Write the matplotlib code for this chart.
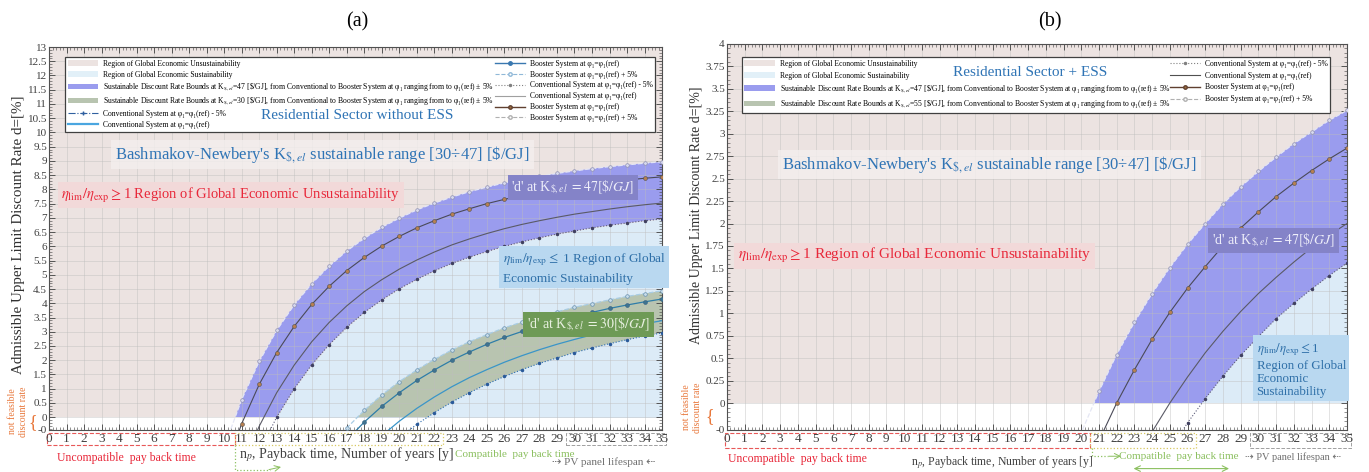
import numpy as np
import matplotlib
matplotlib.use('Agg')
import matplotlib.pyplot as plt
from matplotlib.patches import Rectangle, Patch
from matplotlib.lines import Line2D
from matplotlib.ticker import MultipleLocator
from matplotlib.transforms import blended_transform_factory

plt.rcParams['font.family'] = ['Liberation Serif', 'DejaVu Serif']
plt.rcParams['mathtext.fontset'] = 'stix'

# ---- (a) residential sector without ESS: admissible discount rate d [%] vs payback years ----
# K$,el = 47 $/GJ
yrs_a_b47_up = list(range(9, 36))      # booster, phi1 = ref + 5%
d_a_b47_up = [-3.15, -1.05, 0.62, 1.96, 3.05, 3.95, 4.69, 5.31, 5.84, 6.28, 6.67, 6.99, 7.28, 7.52,
              7.73, 7.92, 8.08, 8.23, 8.35, 8.46, 8.56, 8.65, 8.73, 8.80, 8.86, 8.92, 8.97]
yrs_a_b47 = list(range(10, 36))        # booster, phi1 = ref
d_a_b47 = [-1.93, -0.23, 1.15, 2.27, 3.19, 3.96, 4.60, 5.15, 5.61, 6.01, 6.35, 6.65, 6.90, 7.13,
           7.32, 7.50, 7.65, 7.78, 7.90, 8.01, 8.10, 8.19, 8.26, 8.33, 8.39, 8.44]
yrs_a_c47 = list(range(11, 36))        # conventional, phi1 = ref
d_a_c47 = [-1.75, -0.32, 0.86, 1.83, 2.65, 3.33, 3.91, 4.41, 4.83, 5.20, 5.52, 5.80, 6.05, 6.26,
           6.45, 6.62, 6.77, 6.90, 7.02, 7.13, 7.22, 7.31, 7.39, 7.46, 7.52]
yrs_a_c47_lo = list(range(12, 36))     # conventional, phi1 = ref - 5%
d_a_c47_lo = [-1.21, 0.00, 1.00, 1.84, 2.55, 3.16, 3.68, 4.12, 4.51, 4.84, 5.14, 5.40, 5.62, 5.82,
              6.00, 6.16, 6.30, 6.43, 6.54, 6.65, 6.74, 6.82, 6.90, 6.96]
# K$,el = 30 $/GJ
yrs_a_b30_up = list(range(16, 36))
d_a_b30_up = [-1.10, -0.38, 0.24, 0.78, 1.25, 1.66, 2.03, 2.36, 2.65, 2.90, 3.14, 3.34, 3.53, 3.70,
              3.86, 3.99, 4.12, 4.24, 4.34, 4.44]
yrs_a_b30 = list(range(17, 36))
d_a_b30 = [-0.81, -0.17, 0.38, 0.86, 1.29, 1.66, 2.00, 2.29, 2.56, 2.80, 3.01, 3.21, 3.38, 3.54,
           3.68, 3.82, 3.94, 4.05, 4.15]
yrs_a_c30 = list(range(19, 36))
d_a_c30 = [-0.65, -0.14, 0.31, 0.71, 1.07, 1.39, 1.67, 1.93, 2.16, 2.37, 2.56, 2.73, 2.89, 3.03,
           3.16, 3.28, 3.39]
yrs_a_c30_lo = list(range(20, 36))
d_a_c30_lo = [-0.72, -0.25, 0.16, 0.53, 0.86, 1.16, 1.43, 1.67, 1.89, 2.08, 2.27, 2.43, 2.58, 2.72,
              2.85, 2.96]

# ---- (b) residential sector + ESS, K$,el = 47 $/GJ ----
yrs_b_up = list(range(19, 36))
d_b_up = [-0.84, -0.33, 0.13, 0.54, 0.90, 1.22, 1.51, 1.77, 2.00, 2.22, 2.41, 2.58, 2.74, 2.89,
          3.02, 3.15, 3.26]
yrs_b_boost = list(range(21, 36))
d_b_boost = [-0.42, 0.00, 0.37, 0.71, 1.01, 1.28, 1.52, 1.75, 1.95, 2.13, 2.30, 2.45, 2.59, 2.72, 2.84]
yrs_b_conv = list(range(24, 36))
d_b_conv = [-0.32, 0.00, 0.29, 0.56, 0.80, 1.02, 1.22, 1.40, 1.57, 1.73, 1.87, 2.00]
yrs_b_lo = list(range(25, 36))
d_b_lo = [-0.53, -0.22, 0.05, 0.30, 0.53, 0.74, 0.94, 1.11, 1.27, 1.42, 1.56]

PINK = '#ECE3E1'
LIGHT_BLUE = '#DCEBF7'
BAND_47 = '#9A9CEE'
BAND_30 = '#B8C4B0'
TXT_BLUE = '#2F74B5'
TXT_RED = '#E8283A'
ORANGE = '#E8783C'

fig = plt.figure(figsize=(13.69, 4.72), dpi=100)
ax_a = fig.add_axes([0.0358, 0.089, 0.4478, 0.8114])
ax_b = fig.add_axes([0.5310, 0.089, 0.4529, 0.8178])


def setup_axes(ax, ymin, ymax, ystep, yminor):
    ax.set_xlim(0, 35)
    ax.set_ylim(ymin, ymax)
    ax.set_xticks(range(36))
    ax.xaxis.set_minor_locator(MultipleLocator(0.2))
    yt = list(np.arange(0, ymax + 1e-9, ystep)) + [ymin]
    ax.set_yticks(yt)
    ax.set_yticklabels([f"{v:g}" for v in yt[:-1]] + ['-0'])
    ax.yaxis.set_minor_locator(MultipleLocator(yminor))
    ax.tick_params(which='both', direction='in', top=True, right=True, colors='#404040')
    ax.tick_params(axis='x', labelsize=9.5, pad=2)
    ax.tick_params(axis='y', labelsize=8, pad=1.5)
    ax.tick_params(which='major', length=4, width=0.6)
    ax.tick_params(which='minor', length=2, width=0.4)
    ax.set_axisbelow('line')
    ax.grid(True, which='major', color='#BDBDBD', lw=0.5, alpha=0.6)
    for s in ax.spines.values():
        s.set_color('#505050')
        s.set_linewidth(0.8)
    ax.axhspan(0, ymax, color=PINK, lw=0, zorder=0.5)


def draw_band(ax, x_up, d_up, x_lo, d_lo, color, ymax, under=True):
    clip = Rectangle((0, 0), 35, ymax, transform=ax.transData)
    if under:
        pc = ax.fill_between(x_lo, d_lo, -5, color=LIGHT_BLUE, lw=0, zorder=0.6)
        pc.set_clip_path(clip)
    poly = ax.fill(np.r_[x_up, x_lo[::-1]], np.r_[d_up, d_lo[::-1]], color=color, lw=0, zorder=0.7)[0]
    poly.set_clip_path(clip)


def bottom_marks(ax, red_end, yel_end, y_lo):
    tr = blended_transform_factory(ax.transData, ax.transAxes)
    ax.add_patch(Rectangle((-0.1, y_lo), red_end + 0.1, -0.007 - y_lo, transform=tr, fill=False,
                           ls='--', ec='#E85858', lw=0.8, clip_on=False))
    ax.add_patch(Rectangle((red_end, y_lo), yel_end - red_end, -0.007 - y_lo, transform=tr, fill=False,
                           ls=':', ec='#D8C860', lw=0.9, clip_on=False))
    ax.add_patch(Rectangle((29.5, y_lo), 5.7, -0.007 - y_lo, transform=tr, fill=False,
                           ls='--', ec='#A0A0A0', lw=0.7, clip_on=False))


def not_feasible(ax, brace_x, text_x, brace_y, text_y):
    tr = blended_transform_factory(ax.transAxes, ax.transData)
    ax.text(brace_x, brace_y, '{', transform=tr, fontsize=13, color=ORANGE, ha='center', va='center',
            clip_on=False)
    ax.text(text_x, text_y, 'not feasible\ndiscount rate', transform=tr, fontsize=7, color=ORANGE,
            rotation=90, ha='center', va='center', linespacing=1.25, clip_on=False)


def text_box(ax, x, y, s, fc, tc, size=10, ha='center', **kw):
    ax.text(x, y, s, fontsize=size, color=tc, ha=ha, va='center', zorder=4,
            bbox=dict(boxstyle='square,pad=0.25', fc=fc, ec='none', alpha=kw.pop('alpha', 1)), **kw)


lbl_unsust = 'Region of Global Economic Unsustainability'
lbl_sust = 'Region of Global Economic Sustainability'
lbl_band = (r'Sustainable Discount Rate Bounds at K$_{\$,el}$=%d [\$/GJ], from Conventional to Booster System at '
            'φ₁ ranging from to φ₁(ref) ± 5%%')
lbl_conv_lo = 'Conventional System at φ₁=φ₁(ref) - 5%'
lbl_conv = 'Conventional System at φ₁=φ₁(ref)'
lbl_boost = 'Booster System at φ₁=φ₁(ref)'
lbl_boost_up = 'Booster System at φ₁=φ₁(ref) + 5%'

leg_kw = dict(ncol=2, loc='upper left', mode='expand', fontsize=5.5, handlelength=4.0, borderaxespad=0,
              handletextpad=0.6, borderpad=0.35, fancybox=False, edgecolor='#404040', framealpha=1)

# ===================== panel (a) =====================
ax = ax_a
setup_axes(ax, -0.45, 13, 0.5, 0.1)
draw_band(ax, yrs_a_b47_up, d_a_b47_up, yrs_a_c47_lo, d_a_c47_lo, BAND_47, 13)
draw_band(ax, yrs_a_b30_up, d_a_b30_up, yrs_a_c30_lo, d_a_c30_lo, BAND_30, 13, under=False)

ax.plot(yrs_a_b47_up, d_a_b47_up, ls='--', color='#E4E6F4', lw=0.9, marker='o', ms=2.6,
        mfc='#D8DAF0', mec='#9090B0', mew=0.5, zorder=3)
ax.plot(yrs_a_b47, d_a_b47, ls='-', color='#4A4A58', lw=0.8, marker='o', ms=2.8,
        mfc='#B88050', mec='#505050', mew=0.4, zorder=3)
ax.plot(yrs_a_c47, d_a_c47, ls='-', color='#5A5A66', lw=0.8, zorder=3)
ax.plot(yrs_a_c47_lo, d_a_c47_lo, ls=':', color='#5A5A78', lw=0.8, marker='.', ms=3,
        mfc='#404060', mec='#404060', zorder=3)
ax.plot(yrs_a_b30_up, d_a_b30_up, ls='--', color='#A8CCE4', lw=0.9, marker='o', ms=2.6,
        mfc='#C8DDEA', mec='#6890B0', mew=0.5, zorder=3)
ax.plot(yrs_a_b30, d_a_b30, ls='-', color='#2E7DA8', lw=0.9, marker='o', ms=2.8,
        mfc='#3F7390', mec='#2F5F80', mew=0.4, zorder=3)
ax.plot(yrs_a_c30, d_a_c30, ls='-', color='#3A95C8', lw=0.9, zorder=3)
ax.plot(yrs_a_c30_lo, d_a_c30_lo, ls=':', color='#2A6AB0', lw=0.8, marker='.', ms=3,
        mfc='#2A5A9A', mec='#2A5A9A', zorder=3)

handles_a = [
    Patch(fc=PINK, ec='none'), Patch(fc='#E2F0F8', ec='none'),
    Patch(fc=BAND_47, ec='none'), Patch(fc=BAND_30, ec='none'),
    Line2D([], [], ls='-.', color='#3060A0', lw=0.8, marker='+', ms=3),
    Line2D([], [], ls='-', color='#4AA6E0', lw=1.6),
    Line2D([], [], ls='-', color='#3A78B0', lw=1.0, marker='o', ms=2.5),
    Line2D([], [], ls='--', color='#90B8D8', lw=0.8, marker='o', ms=2.5, mfc='white'),
    Line2D([], [], ls=':', color='#808080', lw=0.8, marker='.', ms=3),
    Line2D([], [], ls='-', color='#A0A0A0', lw=0.8),
    Line2D([], [], ls='-', color='#604030', lw=1.0, marker='o', ms=2.5, mfc='#A07040'),
    Line2D([], [], ls='--', color='#B0B0B0', lw=0.8, marker='o', ms=2.5, mfc='white'),
]
labels_a = [lbl_unsust, lbl_sust, lbl_band % 47, lbl_band % 30, lbl_conv_lo, lbl_conv,
            lbl_boost, lbl_boost_up, lbl_conv_lo, lbl_conv, lbl_boost, lbl_boost_up]
leg = ax.legend(handles_a, labels_a, bbox_to_anchor=(0.026, 0.77, 0.963, 0.204), labelspacing=0.38, **leg_kw)
leg.get_frame().set_linewidth(0.9)
leg.set_zorder(5)

ax.text(17.6, 10.6, 'Residential Sector without ESS', fontsize=11, color=TXT_BLUE, ha='center',
        va='center', zorder=6)
text_box(ax, 15.6, 9.22, r"Bashmakov-Newbery's K$_{\$,el}$ sustainable range [30÷47] [\$/GJ]",
         '#F4EFEE', TXT_BLUE, size=12, alpha=0.8)
text_box(ax, 0.7, 7.8, r"$\eta_{\rm lim}/\eta_{\rm exp}\geq$1 Region of Global Economic Unsustainability",
         '#F2D9D9', TXT_RED, size=10.5, ha='left')
text_box(ax, 29.9, 8.06, r"'d' at K$_{\$,el}$ $= 47[\$/GJ]$", '#8483C8', '#EEEEFA', size=10)
text_box(ax, 25.9, 5.23, r"$\eta_{\rm lim}/\eta_{\rm exp}\leq$ 1 Region of Global" + "\nEconomic Sustainability",
         '#B9D8F0', '#2E6FA8', size=9.5, ha='left', linespacing=1.5)
text_box(ax, 30.8, 3.25, r"'d' at K$_{\$,el}$ $=30[\$/GJ]$", '#6E9A56', '#E8F0E0', size=10)

bottom_marks(ax, 10.6, 22.5, -0.040)
not_feasible(ax, -0.027, -0.05, -0.2, 0.2)
ax.text(0.127, -0.072, 'Uncompatible  pay back time', transform=ax.transAxes, fontsize=8.5,
        color=TXT_RED, ha='center', va='center')
ax.text(0.486, -0.065, r'n$_p$, Payback time, Number of years [y]', transform=ax.transAxes, fontsize=10,
        color='#404040', ha='center', va='center')
ax.text(0.662, -0.065, 'Compatible  pay back time', transform=ax.transAxes, fontsize=8,
        color='#8CC060', ha='left', va='center')
ax.text(0.99, -0.083, '⇢ PV panel lifespan ⇠', transform=ax.transAxes, fontsize=8, color='#707070',
        ha='right', va='center', family=['Liberation Serif', 'DejaVu Sans'])
trx = blended_transform_factory(ax.transData, ax.transAxes)
ax.plot([10.6, 10.6, 12.6], [-0.04, -0.105, -0.105], transform=trx, ls=':', color='#8CC060', lw=0.9,
        clip_on=False)
ax.annotate('', xy=(13.4, -0.095), xytext=(12.4, -0.105), xycoords=trx, textcoords=trx,
            arrowprops=dict(arrowstyle='->', color='#8CC060', lw=0.7), annotation_clip=False)

# ===================== panel (b) =====================
ax = ax_b
setup_axes(ax, -0.3, 4, 0.25, 0.05)
draw_band(ax, yrs_b_up, d_b_up, yrs_b_lo, d_b_lo, BAND_47, 4)

ax.plot(yrs_b_up, d_b_up, ls='--', color='#E4E6F4', lw=0.9, marker='o', ms=2.6,
        mfc='#D8DAF0', mec='#9090B0', mew=0.5, zorder=3)
ax.plot(yrs_b_boost, d_b_boost, ls='-', color='#4A4A58', lw=0.8, marker='o', ms=2.8,
        mfc='#B88050', mec='#505050', mew=0.4, zorder=3)
ax.plot(yrs_b_conv, d_b_conv, ls='-', color='#5A5A66', lw=0.8, zorder=3)
ax.plot(yrs_b_lo, d_b_lo, ls=':', color='#5A5A78', lw=0.8, marker='.', ms=3,
        mfc='#404060', mec='#404060', zorder=3)

handles_b = [
    Patch(fc=PINK, ec='none'), Patch(fc='#E2F0F8', ec='none'),
    Patch(fc=BAND_47, ec='none'), Patch(fc=BAND_30, ec='none'),
    Line2D([], [], ls=':', color='#808080', lw=0.8, marker='.', ms=3),
    Line2D([], [], ls='-', color='#505050', lw=0.8),
    Line2D([], [], ls='-', color='#604030', lw=1.0, marker='o', ms=2.5, mfc='#A07040'),
    Line2D([], [], ls='--', color='#B0B0B0', lw=0.8, marker='o', ms=2.5, mfc='white'),
]
labels_b = [lbl_unsust, lbl_sust, lbl_band % 47, lbl_band % 55, lbl_conv_lo, lbl_conv, lbl_boost, lbl_boost_up]
leg = ax.legend(handles_b, labels_b, bbox_to_anchor=(0.024, 0.821, 0.949, 0.145), labelspacing=0.5, **leg_kw)
leg.get_frame().set_linewidth(0.9)
leg.set_zorder(5)

ax.text(17.1, 3.68, 'Residential Sector + ESS', fontsize=11, color=TXT_BLUE, ha='center',
        va='center', zorder=6)
text_box(ax, 14.8, 2.66, r"Bashmakov-Newbery's K$_{\$,el}$ sustainable range [30÷47] [\$/GJ]",
         '#F4EFEE', TXT_BLUE, size=12, alpha=0.8)
text_box(ax, 0.6, 1.64, r"$\eta_{\rm lim}/\eta_{\rm exp}\geq$1 Region of Global Economic Unsustainability",
         '#F2D9D9', TXT_RED, size=11, ha='left')
text_box(ax, 30.85, 1.81, r"'d' at K$_{\$,el}$ $= 47[\$/GJ]$", '#8483C8', '#EEEEFA', size=10)
text_box(ax, 29.9, 0.37, r"$\eta_{\rm lim}/\eta_{\rm exp}\leq$1" + "\nRegion of Global\nEconomic\nSustainability",
         '#B9D8F0', '#2E6FA8', size=9.3, ha='left', linespacing=1.15)

bottom_marks(ax, 20.5, 26.5, -0.047)
not_feasible(ax, -0.027, -0.056, -0.15, -0.05)
ax.text(0.113, -0.075, 'Uncompatible  pay back time', transform=ax.transAxes, fontsize=8.5,
        color=TXT_RED, ha='center', va='center')
ax.text(0.444, -0.083, r'n$_p$, Payback time, Number of years [y]', transform=ax.transAxes, fontsize=8.5,
        color='#404040', ha='center', va='center')
ax.text(0.632, -0.068, 'Compatible  pay back time', transform=ax.transAxes, fontsize=8,
        color='#8CC060', ha='left', va='center')
ax.text(0.99, -0.07, '⇢ PV panel lifespan ⇠', transform=ax.transAxes, fontsize=7.5, color='#707070',
        ha='right', va='center', family=['Liberation Serif', 'DejaVu Sans'])
trx = blended_transform_factory(ax.transData, ax.transAxes)
ax.plot([20.6, 20.6, 21.5], [-0.047, -0.068, -0.068], transform=trx, ls=':', color='#8CC060', lw=0.9,
        clip_on=False)
ax.annotate('', xy=(22.4, -0.068), xytext=(21.4, -0.068), xycoords=trx, textcoords=trx,
            arrowprops=dict(arrowstyle='->', color='#8CC060', lw=0.7), annotation_clip=False)
ax.annotate('', xy=(28.5, -0.10), xytext=(22.8, -0.10), xycoords=trx, textcoords=trx,
            arrowprops=dict(arrowstyle='<->', color='#8CC060', lw=0.8), annotation_clip=False)

# titles and y labels
fig.text(0.261, 0.953, '(a)', fontsize=14.5, ha='center', va='center')
fig.text(0.767, 0.953, '(b)', fontsize=14.5, ha='center', va='center')
ylab = 'Admissible Upper Limit Discount Rate d=[%]'
fig.text(0.0135, 0.502, ylab, rotation=90, fontsize=10.8, ha='center', va='center', color='#303030')
fig.text(0.5085, 0.545, ylab, rotation=90, fontsize=10, ha='center', va='center', color='#303030')

fig.savefig('out.png', dpi=100, facecolor='white')
